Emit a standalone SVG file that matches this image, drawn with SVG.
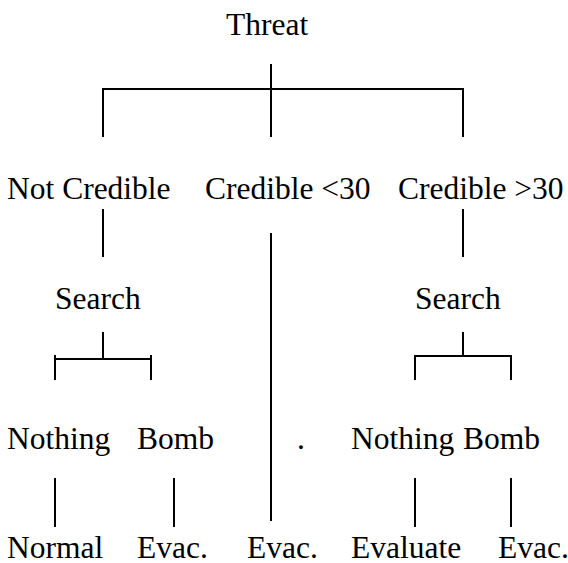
<svg xmlns="http://www.w3.org/2000/svg" width="568" height="563" viewBox="0 0 568 563">
<style>
  text { font-size: 31.5px; fill: #000; }
  .c { stroke: #000; stroke-width: 2; fill: none; }
</style>
<rect width="568" height="563" fill="#fff"/>
<g id="connectors" class="c">
  <path d="M271 64 V137"/>
  <path d="M103 137 V89 H463 V137"/>
  <path d="M103 209 V257"/>
  <path d="M463 209 V257"/>
  <path d="M271 233 V521"/>
  <path d="M103 332 V359"/>
  <path d="M55 359 H151"/>
  <path d="M55 355 V380"/>
  <path d="M151 355 V380"/>
  <path d="M463 332 V356"/>
  <path d="M415 380 V356 H511 V380"/>
  <path d="M55 478 V527"/>
  <path d="M174 478 V527"/>
  <path d="M415 478 V527"/>
  <path d="M511 478 V527"/>
</g>
<g id="threat"><text x="226" y="35" font-family="Liberation Serif, Times New Roman, Noto Serif CJK SC, serif">Threat</text></g>
<g id="not-credible"><text x="7" y="199" font-family="Liberation Serif, Times New Roman, Noto Serif CJK SC, serif">Not Credible</text></g>
<g id="credible-lt30"><text x="205" y="199" font-family="Liberation Serif, Times New Roman, Noto Serif CJK SC, serif">Credible &lt;30</text></g>
<g id="credible-gt30"><text x="398" y="199" font-family="Liberation Serif, Times New Roman, Noto Serif CJK SC, serif">Credible &gt;30</text></g>
<g id="search-left"><text x="55" y="309" font-family="Liberation Serif, Times New Roman, Noto Serif CJK SC, serif">Search</text></g>
<g id="search-right"><text x="415" y="309" font-family="Liberation Serif, Times New Roman, Noto Serif CJK SC, serif">Search</text></g>
<g id="nothing-left"><text x="7" y="449" font-family="Liberation Serif, Times New Roman, Noto Serif CJK SC, serif">Nothing</text></g>
<g id="bomb-left"><text x="137" y="449" font-family="Liberation Serif, Times New Roman, Noto Serif CJK SC, serif">Bomb</text></g>
<g id="dot"><text x="297" y="449" font-family="Liberation Serif, Times New Roman, Noto Serif CJK SC, serif">.</text></g>
<g id="nothing-right"><text x="351" y="449" font-family="Liberation Serif, Times New Roman, Noto Serif CJK SC, serif">Nothing</text></g>
<g id="bomb-right"><text x="463" y="449" font-family="Liberation Serif, Times New Roman, Noto Serif CJK SC, serif">Bomb</text></g>
<g id="normal"><text x="7" y="558" font-family="Liberation Serif, Times New Roman, Noto Serif CJK SC, serif">Normal</text></g>
<g id="evac-left"><text x="137" y="558" font-family="Liberation Serif, Times New Roman, Noto Serif CJK SC, serif">Evac.</text></g>
<g id="evac-center"><text x="247" y="558" font-family="Liberation Serif, Times New Roman, Noto Serif CJK SC, serif">Evac.</text></g>
<g id="evaluate"><text x="351" y="558" font-family="Liberation Serif, Times New Roman, Noto Serif CJK SC, serif">Evaluate</text></g>
<g id="evac-right"><text x="498" y="558" font-family="Liberation Serif, Times New Roman, Noto Serif CJK SC, serif">Evac.</text></g>
</svg>
